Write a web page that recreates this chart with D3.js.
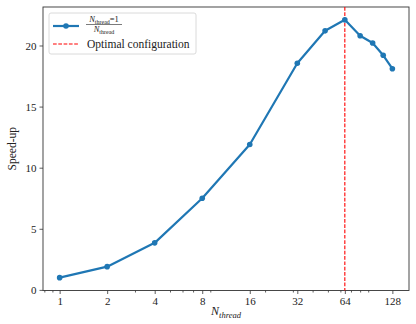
<!DOCTYPE html>
<html>
<head>
<meta charset="utf-8">
<script src="https://d3js.org/d3.v7.min.js"></script>
<style>
  body { margin: 0; background: #fff; }
  text { font-family: "Liberation Serif", "DejaVu Serif", serif; fill: #222; }
</style>
</head>
<body>
<script>
// data
var threads = [1, 2, 4, 8, 16, 32, 48, 64, 80, 96, 112, 128];
var speedup = [1.0, 1.9, 3.85, 7.5, 11.9, 18.55, 21.2, 22.1, 20.8, 20.2, 19.2, 18.1];
var xTicks = [1, 2, 4, 8, 16, 32, 64, 128];
var xMinor = [0.8, 0.9, 3, 5, 6, 7, 9, 20, 30, 40, 50, 60, 70, 80, 90];
var yTicks = [0, 5, 10, 15, 20];
var optimal = 64;

var W = 416, H = 324;
var margin = {top: 7, right: 7, bottom: 33.5, left: 43};
var width = W - margin.left - margin.right,
    height = H - margin.top - margin.bottom;

var svg = d3.select("body").append("svg")
    .attr("width", W)
    .attr("height", H);

var g = svg.append("g")
    .attr("transform", "translate(" + margin.left + "," + margin.top + ")");

var x = d3.scaleLog().base(2)
    .domain([Math.pow(2, -0.35), Math.pow(2, 7.35)])
    .range([0, width]);

var y = d3.scaleLinear()
    .domain([-0.05, 23.15])
    .range([height, 0]);

// axes
var xAxis = d3.axisBottom(x)
    .tickValues(xTicks)
    .tickFormat(d3.format("d"))
    .tickSize(3.5)
    .tickPadding(3);

var xMinorAxis = d3.axisBottom(x)
    .tickValues(xMinor)
    .tickFormat("")
    .tickSize(2);

var yAxis = d3.axisLeft(y)
    .tickValues(yTicks)
    .tickSize(3.5)
    .tickPadding(3);

var gx = g.append("g")
    .attr("transform", "translate(0," + height + ")")
    .call(xAxis);
g.append("g")
    .attr("transform", "translate(0," + height + ")")
    .call(xMinorAxis)
    .call(function(s) { s.select(".domain").remove(); });
var gy = g.append("g").call(yAxis);

g.selectAll(".tick line").attr("stroke", "#333").attr("stroke-width", 0.8);
g.selectAll(".domain").remove();
g.selectAll(".tick text")
    .style("font-family", "'Liberation Serif', serif")
    .style("font-size", "11px")
    .attr("fill", "#222");

// frame
g.append("rect")
    .attr("width", width)
    .attr("height", height)
    .attr("fill", "none")
    .attr("stroke", "#333")
    .attr("stroke-width", 0.9);

// optimal line
g.append("line")
    .attr("x1", x(optimal)).attr("x2", x(optimal))
    .attr("y1", 0).attr("y2", height)
    .attr("stroke", "#ff0000")
    .attr("stroke-width", 1.1)
    .attr("stroke-dasharray", "3.7,1.6");

// speed-up line
var line = d3.line()
    .x(function(d, i) { return x(threads[i]); })
    .y(function(d) { return y(d); });

g.append("path")
    .datum(speedup)
    .attr("d", line)
    .attr("fill", "none")
    .attr("stroke", "#1f77b4")
    .attr("stroke-width", 2.2)
    .attr("stroke-linejoin", "round");

g.selectAll(".pt")
    .data(speedup)
  .enter().append("circle")
    .attr("class", "pt")
    .attr("cx", function(d, i) { return x(threads[i]); })
    .attr("cy", function(d) { return y(d); })
    .attr("r", 2.8)
    .attr("fill", "#1f77b4");

// axis labels
svg.append("text")
    .attr("transform", "translate(16," + (margin.top + height / 2) + ") rotate(-90)")
    .attr("text-anchor", "middle")
    .style("font-size", "11.5px")
    .text("Speed-up");

var xl = svg.append("text")
    .attr("x", margin.left + width / 2)
    .attr("y", 315)
    .attr("text-anchor", "middle")
    .style("font-style", "italic")
    .style("font-size", "12px");
xl.append("tspan").text("N");
xl.append("tspan").attr("dy", 2.5).style("font-size", "8.5px").text("thread");

// legend
var lg = svg.append("g").attr("transform", "translate(49,13)");
lg.append("rect")
    .attr("width", 147).attr("height", 41)
    .attr("rx", 2)
    .attr("fill", "#fff").attr("fill-opacity", 0.8)
    .attr("stroke", "#d0d0d0").attr("stroke-width", 0.8);

lg.append("line")
    .attr("x1", 4).attr("x2", 30).attr("y1", 13).attr("y2", 13)
    .attr("stroke", "#1f77b4").attr("stroke-width", 2.2);
lg.append("circle").attr("cx", 17).attr("cy", 13).attr("r", 2.8).attr("fill", "#1f77b4");

var num = lg.append("text")
    .attr("x", 55).attr("y", 9)
    .attr("text-anchor", "middle")
    .style("font-size", "8.5px");
num.append("tspan").style("font-style", "italic").text("N");
num.append("tspan").attr("dy", 1.5).style("font-size", "6px").text("thread");
num.append("tspan").attr("dy", -1.5).text("=1");
lg.append("line")
    .attr("x1", 37).attr("x2", 73).attr("y1", 11.5).attr("y2", 11.5)
    .attr("stroke", "#222").attr("stroke-width", 0.6);
var den = lg.append("text")
    .attr("x", 55).attr("y", 19)
    .attr("text-anchor", "middle")
    .style("font-size", "8.5px");
den.append("tspan").style("font-style", "italic").text("N");
den.append("tspan").attr("dy", 1.5).style("font-size", "6px").text("thread");

lg.append("line")
    .attr("x1", 4).attr("x2", 30).attr("y1", 31).attr("y2", 31)
    .attr("stroke", "#ff0000").attr("stroke-width", 1.1)
    .attr("stroke-dasharray", "3.7,1.6");
lg.append("text")
    .attr("x", 38).attr("y", 35)
    .style("font-size", "11.5px")
    .text("Optimal configuration");
</script>
</body>
</html>
